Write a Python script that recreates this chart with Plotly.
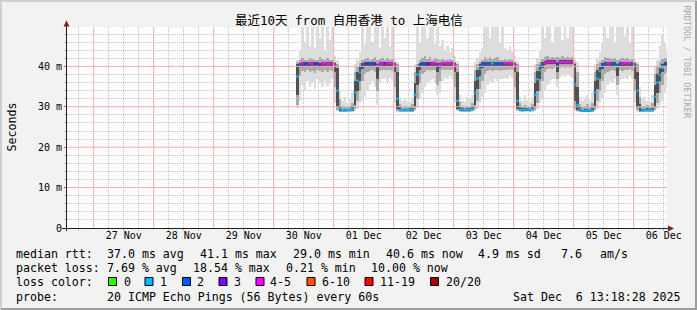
import plotly.graph_objects as go
import pandas as pd

# ---------------- data: hourly samples, Nov 30 09:00 -> Dec 6 13:00 ----------------
median_ms = [
    37.5, 40.5, 40.7, 40.6, 40.7, 40.8, 40.6, 40.7, 40.6, 40.5, 40.7, 40.8, 40.6, 40.7, 40.6,
    40.2, 34.0, 29.5, 29.2, 29.1, 29.2, 29.2, 29.4, 33.5, 36.5, 38.5, 40.2, 40.6, 40.7, 40.6, 40.7, 40.6, 40.0, 40.6, 40.7, 40.8, 40.7, 40.8, 40.7,
    40.3, 32.0, 29.2, 29.2, 29.1, 29.2, 29.3, 29.3, 33.0, 38.0, 40.4, 40.6, 40.7, 40.6, 40.6, 40.7, 40.8, 40.3, 40.4, 40.7, 40.8, 40.7, 40.8, 40.6,
    40.3, 31.5, 29.3, 29.3, 29.2, 29.3, 29.3, 29.4, 33.5, 37.0, 39.3, 40.4, 40.7, 40.6, 40.6, 40.7, 40.6, 40.6, 40.7, 40.6, 40.8, 40.7, 40.8, 40.7,
    40.3, 31.5, 29.3, 29.2, 29.3, 29.3, 29.2, 29.4, 33.0, 36.8, 39.0, 40.4, 40.8, 41.0, 41.1, 41.0, 41.1, 40.6, 41.0, 41.1, 41.0, 41.1, 41.0, 41.1,
    35.5, 30.5, 29.4, 29.0, 29.0, 29.1, 29.0, 29.1, 33.5, 37.0, 38.8, 40.2, 40.6, 40.7, 40.7, 40.6, 40.6, 39.9, 40.6, 40.7, 40.8, 40.7, 40.8, 40.6,
    40.0, 34.0, 29.8, 29.1, 29.1, 29.2, 29.1, 29.2, 32.5, 36.0, 37.8, 39.6, 40.6, 40.6,
]
lost_pings = [
    1, 2, 5, 3, 2, 5, 5, 3, 2, 3, 5, 5, 5, 5, 5,
    5, 1, 1, 1, 1, 1, 1, 1, 1, 1, 1, 2, 2, 3, 2, 2, 3, 1, 5, 5, 3, 5, 5, 5,
    5, 1, 1, 1, 1, 1, 1, 1, 1, 1, 2, 2, 2, 3, 3, 5, 5, 2, 5, 5, 5, 5, 5, 5,
    5, 1, 1, 1, 1, 1, 1, 1, 1, 1, 1, 2, 2, 2, 2, 1, 2, 2, 2, 2, 5, 5, 5, 5,
    5, 1, 1, 1, 1, 1, 1, 1, 1, 1, 1, 2, 5, 5, 5, 5, 5, 2, 5, 5, 5, 5, 5, 5,
    1, 1, 1, 1, 1, 1, 1, 1, 1, 1, 1, 2, 2, 5, 5, 2, 2, 1, 2, 5, 5, 5, 5, 2,
    2, 1, 1, 1, 1, 1, 1, 1, 1, 1, 1, 1, 2, 2,
]
# inner (dark) smoke band
smoke_in_lo = [
    33.0, 39.8, 40.1, 40.0, 40.1, 40.2, 40.0, 40.1, 40.0, 39.9, 40.1, 40.2, 40.0, 40.1, 40.0,
    38.5, 30.0, 29.0, 28.9, 28.9, 28.9, 28.9, 29.0, 30.5, 34.0, 36.5, 39.4, 40.0, 40.1, 40.0, 40.1, 40.0, 37.0, 40.0, 40.1, 40.2, 40.1, 40.2, 40.1,
    38.5, 29.5, 28.9, 28.9, 28.9, 28.9, 29.0, 29.0, 30.0, 35.5, 39.0, 40.0, 40.1, 40.0, 40.0, 40.1, 40.2, 38.5, 39.5, 40.1, 40.2, 40.1, 40.2, 40.0,
    38.5, 29.5, 29.0, 29.0, 28.9, 29.0, 29.0, 29.1, 30.5, 34.5, 37.5, 39.5, 40.0, 40.0, 40.0, 40.1, 40.0, 40.0, 40.1, 40.0, 40.2, 40.1, 40.2, 40.1,
    38.5, 29.5, 29.0, 28.9, 29.0, 29.0, 28.9, 29.1, 30.0, 34.0, 37.0, 39.5, 40.3, 40.5, 40.6, 40.5, 40.6, 38.5, 40.5, 40.6, 40.5, 40.6, 40.5, 40.6,
    31.5, 29.3, 28.9, 28.8, 28.8, 28.8, 28.8, 28.9, 30.0, 34.5, 37.0, 39.3, 40.0, 40.1, 40.1, 40.0, 40.0, 37.5, 40.0, 40.1, 40.2, 40.1, 40.2, 40.0,
    37.0, 30.0, 29.0, 28.9, 28.9, 28.9, 28.9, 29.0, 30.0, 33.5, 36.5, 38.5, 40.0, 40.0,
]
smoke_in_hi = [
    40.5, 40.9, 41.1, 41.0, 41.1, 41.2, 41.0, 41.1, 41.0, 40.9, 41.1, 41.2, 41.0, 41.1, 41.0,
    40.9, 39.5, 30.3, 29.5, 29.4, 29.5, 29.5, 30.0, 36.5, 38.5, 40.2, 40.8, 41.0, 41.1, 41.0, 41.1, 41.0, 40.6, 41.0, 41.1, 41.2, 41.1, 41.2, 41.1,
    40.9, 38.5, 29.9, 29.5, 29.4, 29.5, 29.6, 29.7, 36.0, 39.8, 40.9, 41.0, 41.1, 41.0, 41.0, 41.1, 41.2, 40.8, 40.9, 41.1, 41.2, 41.1, 41.2, 41.0,
    40.9, 38.5, 30.0, 29.6, 29.5, 29.6, 29.6, 29.9, 36.5, 39.0, 40.5, 41.0, 41.1, 41.0, 41.0, 41.1, 41.0, 41.0, 41.1, 41.0, 41.2, 41.1, 41.2, 41.1,
    40.9, 38.5, 30.0, 29.6, 29.7, 29.6, 29.5, 29.9, 36.0, 38.8, 40.4, 41.0, 41.3, 41.5, 41.6, 41.5, 41.6, 41.2, 41.5, 41.6, 41.5, 41.6, 41.5, 41.6,
    40.5, 35.0, 29.9, 29.3, 29.4, 29.5, 29.3, 29.7, 36.5, 39.0, 40.2, 40.9, 41.0, 41.1, 41.1, 41.0, 41.0, 40.6, 41.0, 41.1, 41.2, 41.1, 41.2, 41.0,
    40.8, 38.5, 30.8, 29.5, 29.5, 29.6, 29.4, 29.8, 35.5, 38.0, 39.5, 40.5, 41.0, 41.0,
]
# middle smoke band
smoke_mid_lo = [
    30.5, 37.5, 38.8, 38.6, 39.0, 38.7, 38.9, 38.4, 39.1, 38.8, 38.6, 39.2, 38.7, 39.0, 38.9,
    35.0, 29.2, 28.8, 28.8, 28.8, 28.8, 28.8, 28.9, 29.5, 31.5, 34.0, 36.5, 38.0, 38.7, 38.9, 39.0, 38.7, 34.0, 38.9, 39.1, 39.2, 39.0, 39.2, 38.9,
    35.0, 29.0, 28.8, 28.8, 28.8, 28.8, 28.8, 28.8, 29.2, 32.0, 36.0, 38.0, 38.7, 39.0, 38.9, 39.1, 39.0, 35.5, 36.5, 39.0, 39.2, 39.1, 39.2, 39.0,
    35.0, 29.1, 28.9, 28.8, 28.8, 28.8, 28.8, 28.9, 29.4, 31.5, 34.5, 36.5, 38.0, 38.8, 39.0, 38.8, 39.0, 39.1, 38.8, 39.0, 39.2, 39.0, 39.3, 39.0,
    35.0, 29.1, 28.9, 28.8, 28.9, 28.9, 28.8, 28.9, 29.3, 31.0, 34.0, 36.5, 38.5, 39.3, 39.6, 39.4, 39.8, 37.0, 39.5, 39.8, 39.6, 39.9, 39.7, 39.8,
    29.5, 28.9, 28.8, 28.7, 28.7, 28.7, 28.7, 28.8, 29.2, 31.5, 34.0, 36.5, 38.0, 38.7, 38.9, 39.0, 38.9, 35.5, 39.0, 38.9, 39.2, 39.0, 39.3, 38.9,
    34.0, 29.2, 28.8, 28.8, 28.8, 28.8, 28.8, 28.8, 29.2, 31.0, 33.5, 35.5, 38.0, 38.5,
]
smoke_mid_hi = [
    41.0, 41.6, 42.2, 41.7, 41.5, 42.0, 41.8, 41.5, 41.7, 42.3, 41.8, 41.6, 42.1, 41.7, 41.5,
    41.2, 40.5, 32.0, 30.0, 30.2, 29.9, 30.1, 31.0, 38.5, 40.0, 40.9, 41.5, 41.9, 42.2, 41.7, 41.9, 42.4, 41.6, 41.8, 42.2, 41.7, 42.0, 41.6, 41.9,
    41.2, 40.5, 30.8, 30.0, 30.1, 29.9, 30.3, 30.8, 38.5, 40.6, 41.5, 42.2, 42.5, 41.9, 42.3, 41.7, 42.1, 41.9, 41.6, 41.9, 41.7, 41.5, 41.8, 41.6,
    41.2, 40.5, 31.2, 30.1, 30.0, 30.3, 29.9, 31.0, 39.0, 40.6, 41.2, 41.7, 42.3, 41.9, 42.4, 41.8, 42.1, 42.3, 41.7, 41.6, 41.8, 41.6, 41.9, 41.5,
    41.2, 40.5, 31.0, 30.1, 30.5, 30.0, 29.9, 30.8, 38.5, 40.5, 41.2, 41.8, 42.3, 42.6, 42.1, 42.4, 42.0, 42.3, 42.2, 42.6, 42.1, 42.4, 42.0, 42.3,
    41.0, 38.5, 30.8, 29.9, 30.3, 30.6, 30.0, 31.0, 38.5, 40.5, 41.2, 41.7, 42.4, 42.0, 42.2, 41.8, 42.0, 41.7, 41.9, 42.2, 41.8, 42.0, 41.6, 41.8,
    41.2, 40.5, 32.5, 30.0, 30.2, 30.4, 30.0, 31.0, 38.0, 40.0, 41.0, 41.8, 42.0, 41.8,
]
# outer (light) smoke band: fastest / slowest ping
smoke_out_lo = [
    29.8, 31.5, 35.5, 34.0, 36.5, 35.0, 36.0, 34.5, 36.8, 35.8, 34.8, 36.5, 35.2, 36.0, 37.0,
    31.0, 28.9, 28.7, 28.7, 28.7, 28.7, 28.7, 28.8, 29.0, 29.5, 31.0, 31.5, 32.5, 34.0, 35.5, 36.5, 35.0, 30.5, 36.0, 36.8, 37.0, 36.2, 37.2, 36.5,
    31.0, 28.8, 28.7, 28.7, 28.7, 28.7, 28.7, 28.7, 28.9, 29.8, 32.0, 33.5, 35.0, 36.0, 36.5, 37.0, 36.2, 33.0, 33.5, 36.5, 37.2, 37.0, 37.5, 37.0,
    31.0, 28.9, 28.8, 28.7, 28.7, 28.7, 28.7, 28.8, 29.0, 29.5, 31.0, 32.5, 33.5, 35.5, 36.5, 36.0, 37.0, 36.5, 36.8, 37.0, 37.2, 37.0, 37.5, 37.2,
    31.0, 28.9, 28.8, 28.7, 28.8, 28.8, 28.7, 28.8, 29.0, 29.5, 31.0, 32.0, 34.0, 35.5, 36.5, 37.0, 36.8, 35.0, 37.2, 37.5, 37.3, 37.8, 37.5, 37.2,
    29.0, 28.8, 28.7, 28.6, 28.6, 28.6, 28.6, 28.7, 28.9, 29.5, 31.0, 32.0, 33.5, 35.5, 36.5, 36.0, 36.8, 33.0, 36.5, 37.0, 37.2, 36.8, 37.5, 37.0,
    31.0, 28.8, 28.7, 28.7, 28.7, 28.7, 28.7, 28.7, 28.9, 29.5, 30.5, 31.5, 33.5, 35.0,
]
smoke_out_hi = [
    41.5, 44.0, 55.0, 46.0, 55.0, 45.0, 55.0, 44.5, 55.0, 47.0, 55.0, 44.0, 55.0, 46.5, 55.0,
    42.5, 41.5, 34.0, 31.5, 32.5, 31.0, 32.0, 33.5, 40.5, 41.5, 43.5, 55.0, 45.5, 55.0, 55.0, 46.0, 55.0, 55.0, 44.5, 55.0, 47.0, 55.0, 45.0, 55.0,
    42.0, 41.2, 32.5, 31.5, 32.0, 31.5, 31.2, 32.5, 40.5, 55.0, 46.0, 55.0, 55.0, 47.0, 55.0, 55.0, 45.5, 55.0, 45.0, 46.5, 44.0, 45.0, 43.5, 44.5,
    42.5, 41.3, 33.0, 31.5, 31.3, 32.5, 32.0, 33.0, 41.0, 42.0, 43.5, 44.5, 55.0, 55.0, 47.0, 55.0, 55.0, 55.0, 46.0, 55.0, 44.5, 44.0, 45.0, 43.5,
    42.5, 41.3, 32.5, 31.5, 33.0, 31.8, 31.2, 32.5, 40.5, 42.0, 44.0, 55.0, 47.0, 55.0, 55.0, 46.0, 55.0, 55.0, 55.0, 46.5, 55.0, 47.0, 55.0, 55.0,
    42.0, 41.0, 32.5, 31.5, 32.0, 33.0, 31.8, 33.5, 40.5, 42.0, 43.5, 46.0, 55.0, 47.0, 55.0, 55.0, 46.0, 55.0, 55.0, 55.0, 47.5, 55.0, 46.0, 55.0,
    42.0, 41.0, 35.0, 32.0, 32.5, 31.5, 31.2, 33.0, 40.0, 41.5, 45.0, 48.0, 46.0, 44.0,
]

date_labels = ["27 Nov", "28 Nov", "29 Nov", "30 Nov", "01 Dec", "02 Dec", "03 Dec", "04 Dec", "05 Dec", "06 Dec"]
y_tick_values = [0, 10, 20, 30, 40]
y_tick_labels = ["0", "10 m", "20 m", "30 m", "40 m"]
loss_labels = ["0", "1", "2", "3", "4-5", "6-10", "11-19", "20/20"]
loss_colors = ["#26ff00", "#00b8ff", "#0059ff", "#7e00ff", "#ff00ff", "#ff5500", "#ff0000", "#a10000"]

title_text = "最近10天 from 自用香港 to 上海电信"
rtt_stats = ["37.0 ms avg", "41.1 ms max", "29.0 ms min", "40.6 ms now", "4.9 ms sd", "7.6", "am/s"]
loss_stats = ["7.69 % avg", "18.54 % max", "0.21 % min", "10.00 % now"]
probe_text = "20 ICMP Echo Pings (56 Bytes) every 60s"
stamp_text = "Sat Dec  6 13:18:28 2025"

# ---------------- geometry ----------------
W, H = 697, 310
L, R, T, B = 67, 667, 27, 228
MONO = "DejaVu Sans Mono"
YMAX = 49.75


def px(x):
    return (x - L) / (R - L)


def py(y):
    return (B - y) / (B - T)


def loss_class(n):
    if n <= 3:
        return n
    if n <= 5:
        return 4
    if n <= 10:
        return 5
    if n <= 19:
        return 6
    return 7


times = pd.date_range("2025-11-30 09:30:00", periods=len(median_ms), freq="h")
start, end = "2025-11-26 13:18:28", "2025-12-06 13:18:28"
noon_ticks = pd.date_range("2025-11-27 12:00:00", periods=len(date_labels), freq="D")
midnights = pd.date_range("2025-11-27 00:00:00", periods=len(date_labels), freq="D")
six_hourly = pd.date_range("2025-11-26 18:00:00", "2025-12-06 12:00:00", freq="6h")
minor_x = [t for t in six_hourly if t.hour != 0]
minor_y = [v for v in range(2, 50, 2) if v % 10]

fig = go.Figure()
HOUR = 3600 * 1000
for lo, hi, col in [(smoke_out_lo, smoke_out_hi, "#dddddd"),
                    (smoke_mid_lo, smoke_mid_hi, "#aaaaaa"),
                    (smoke_in_lo, smoke_in_hi, "#505050")]:
    fig.add_trace(go.Bar(x=times, base=lo, y=[h - l for l, h in zip(lo, hi)], width=HOUR,
                         marker=dict(color=col, line=dict(width=0)), showlegend=False, hoverinfo="skip"))

med_cols = [loss_colors[loss_class(n)] for n in lost_pings]
fig.add_trace(go.Scatter(x=times, y=median_ms, mode="markers", showlegend=False, hoverinfo="skip",
                         marker=dict(symbol="line-ew", size=2.2, color=med_cols,
                                     line=dict(width=2, color=med_cols))))
# helper traces so the overlay (label) axes are drawn
fig.add_trace(go.Scatter(x=[noon_ticks[0]], y=[None], xaxis="x3", yaxis="y", mode="markers",
                         showlegend=False, hoverinfo="skip"))
fig.add_trace(go.Scatter(x=[noon_ticks[0]], y=[None], xaxis="x", yaxis="y2", mode="markers",
                         showlegend=False, hoverinfo="skip"))

GRID = "rgba(150,150,150,0.55)"
MGRID = "#f0adad"
DOT = "1px,1px"

fig.update_layout(
    width=W, height=H,
    margin=dict(l=L, r=W - R, t=T, b=H - B, pad=0),
    paper_bgcolor="#f2f2f2", plot_bgcolor="#ffffff",
    barmode="overlay", bargap=0, hovermode=False,
    # main axes: light grey 6-hour / 2 ms grid
    xaxis=dict(type="date", range=[start, end], tickmode="array", tickvals=minor_x,
               showticklabels=False, showgrid=True, gridcolor=GRID, griddash=DOT, gridwidth=1,
               ticks="outside", ticklen=2, tickcolor=GRID, zeroline=False, showline=False),
    yaxis=dict(range=[0, YMAX], tickmode="array", tickvals=minor_y, showticklabels=False,
               showgrid=True, gridcolor=GRID, griddash=DOT, ticks="outside", ticklen=2,
               tickcolor=GRID, zeroline=False, showline=False),
    # overlay axes carrying the labels
    yaxis2=dict(range=[0, YMAX], overlaying="y", anchor="x", side="left", tickmode="array",
                tickvals=y_tick_values, ticktext=y_tick_labels,
                tickfont=dict(family=MONO, size=10, color="black"), showgrid=False,
                ticks="outside", ticklen=2, tickcolor="#de4f4f", zeroline=False, showline=False),
    xaxis3=dict(type="date", range=[start, end], overlaying="x", anchor="y", side="bottom",
                tickmode="array", tickvals=list(noon_ticks), ticktext=date_labels, showgrid=False,
                ticks="", tickfont=dict(family=MONO, size=10, color="black"), zeroline=False,
                showline=False),
)

shapes = []
# major (red) grid: midnight and every 10 ms
for m in midnights:
    shapes.append(dict(type="line", xref="x", yref="paper", x0=m, x1=m, y0=0, y1=1,
                       line=dict(color=MGRID, width=1), layer="above"))
for v in y_tick_values[1:]:
    shapes.append(dict(type="line", xref="paper", yref="y", x0=0, x1=1, y0=v, y1=v,
                       line=dict(color=MGRID, width=1), layer="above"))

ann = []


def txt(x, y, s, size=11.6, color="black", anchor="left", angle=0, family=MONO):
    ann.append(dict(x=px(x), y=py(y), xref="paper", yref="paper", text=s.replace(" ", "\u00a0"),
                    showarrow=False, xanchor=anchor, yanchor="middle", textangle=angle,
                    borderpad=0, borderwidth=0,
                    font=dict(family=family, size=size, color=color)))


txt(348.5, 20.5, title_text, size=12.5, anchor="center", family=MONO + ", Noto Sans CJK SC")
txt(687, 61.5, "RRDTOOL / TOBI OETIKER", size=8.5, color="#a8a8a8", anchor="center", angle=90)
txt(11, 127.5, "Seconds", size=11.6, anchor="center", angle=-90)

ROW = [254, 268.3, 282, 296.5]
txt(15.5, ROW[0], "median rtt:")
for xpos, s in zip([106.5, 199.5, 292.5, 385.5, 477.5, 561, 599.5], rtt_stats):
    txt(xpos, ROW[0], s)
txt(15.5, ROW[1], "packet loss:")
for xpos, s in zip([106.5, 192.5, 286, 371.5], loss_stats):
    txt(xpos, ROW[1], s)
txt(15.5, ROW[2], "loss color:")
box_x = [108.5, 145.0, 182.5, 219.0, 256.0, 307.0, 365.0, 430.5]
label_x = [123.5, 160, 196.8, 233.5, 270, 321.5, 380, 445.5]
for bx, lx, lab, col in zip(box_x, label_x, loss_labels, loss_colors):
    txt(lx, ROW[2], lab)
    shapes.append(dict(type="rect", xref="paper", yref="paper", x0=px(bx), x1=px(bx + 8),
                       y0=py(ROW[2] - 4.5), y1=py(ROW[2] + 3.5), fillcolor=col,
                       line=dict(color="black", width=1), layer="above"))
txt(15.5, ROW[3], "probe:")
txt(106.5, ROW[3], probe_text)
txt(513, ROW[3], stamp_text)

AX = "#1f1f1f"
ARROW = "#7f1f1f"


def path(points):
    return "M " + " L ".join(f"{px(a):.5f},{py(b):.5f}" for a, b in points) + " Z"


shapes += [
    dict(type="line", xref="paper", yref="paper", x0=px(66.5), x1=px(66.5), y0=py(231), y1=py(24),
         line=dict(color=AX, width=1), layer="above"),
    dict(type="line", xref="paper", yref="paper", x0=px(62), x1=px(669), y0=py(228.5), y1=py(228.5),
         line=dict(color=AX, width=1), layer="above"),
    dict(type="path", xref="paper", yref="paper", path=path([(63.5, 26.5), (69.5, 26.5), (66.5, 20.5)]),
         fillcolor=ARROW, line=dict(width=0), layer="above"),
    dict(type="path", xref="paper", yref="paper", path=path([(668, 225.5), (668, 231.5), (674, 228.5)]),
         fillcolor=ARROW, line=dict(width=0), layer="above"),
    # bevel frame
    dict(type="rect", xref="paper", yref="paper", x0=px(0), x1=px(W), y0=py(0), y1=py(2),
         fillcolor="#cfcfcf", line=dict(width=0), layer="above"),
    dict(type="rect", xref="paper", yref="paper", x0=px(0), x1=px(2), y0=py(0), y1=py(H),
         fillcolor="#cfcfcf", line=dict(width=0), layer="above"),
    dict(type="rect", xref="paper", yref="paper", x0=px(W - 2), x1=px(W), y0=py(1), y1=py(H),
         fillcolor="#9e9e9e", line=dict(width=0), layer="above"),
    dict(type="rect", xref="paper", yref="paper", x0=px(1), x1=px(W), y0=py(H - 2), y1=py(H),
         fillcolor="#9e9e9e", line=dict(width=0), layer="above"),
]

fig.update_layout(annotations=ann, shapes=shapes)
fig.write_html("out.html")
